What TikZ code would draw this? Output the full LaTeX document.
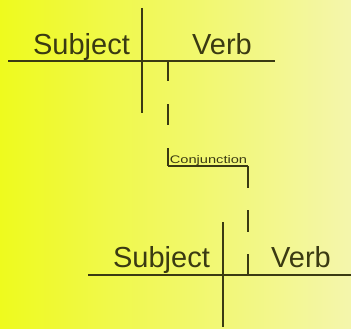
\documentclass[tikz,border=0pt]{standalone}
\usepackage{fontspec}
\setmainfont{Liberation Sans}
\definecolor{ink}{HTML}{3A3A12}
\definecolor{bgleft}{HTML}{EEFA1E}
\definecolor{bgright}{HTML}{F4F6AC}
\begin{document}
\begin{tikzpicture}[x=1pt,y=-1pt,
  rule/.style={draw=ink,line width=1.8pt},
  dashrule/.style={draw=ink,line width=1.8pt,dash pattern=on 20pt off 23.5pt},
  word/.style={font=\fontsize{29}{30}\selectfont,text=ink,anchor=base,inner sep=0pt},
  small/.style={font=\fontsize{11}{12}\selectfont,text=ink,anchor=base,inner sep=0pt,xscale=1.33}]
\useasboundingbox (0,0) rectangle (351,329);
\shade[left color=bgleft,right color=bgright] (0,0) rectangle (351,329);
% top clause
\coordinate (t1L) at (8,61);
\coordinate (t1R) at (275,61);
\coordinate (t1T) at (142,8);
\coordinate (t1B) at (142,113);
\node[word] (subj1) at (81.5,55) {Subject};
\node[word] (verb1) at (222,55) {Verb};
\draw[rule] (t1L) -- (t1R);
\draw[rule] (t1T) -- (t1B);
% conjunction
\coordinate (c0) at (168,61);
\coordinate (c1) at (168,166);
\coordinate (c2) at (248,166);
\coordinate (c3) at (248,275);
\node[small] (conj) at (208.5,163) {Conjunction};
\draw[dashrule] (c0) -- (c1);
\draw[rule] (c1) -- (c2);
\draw[ink,line width=1.8pt,dash pattern=on 22pt off 22pt] (c2) -- (c3);
% bottom clause
\coordinate (t2L) at (88,275);
\coordinate (t2R) at (351,275);
\coordinate (t2T) at (223,222);
\coordinate (t2B) at (223,327);
\node[word] (subj2) at (161.5,267) {Subject};
\node[word] (verb2) at (301,267) {Verb};
\draw[rule] (t2L) -- (t2R);
\draw[rule] (t2T) -- (t2B);
\end{tikzpicture}
\end{document}
